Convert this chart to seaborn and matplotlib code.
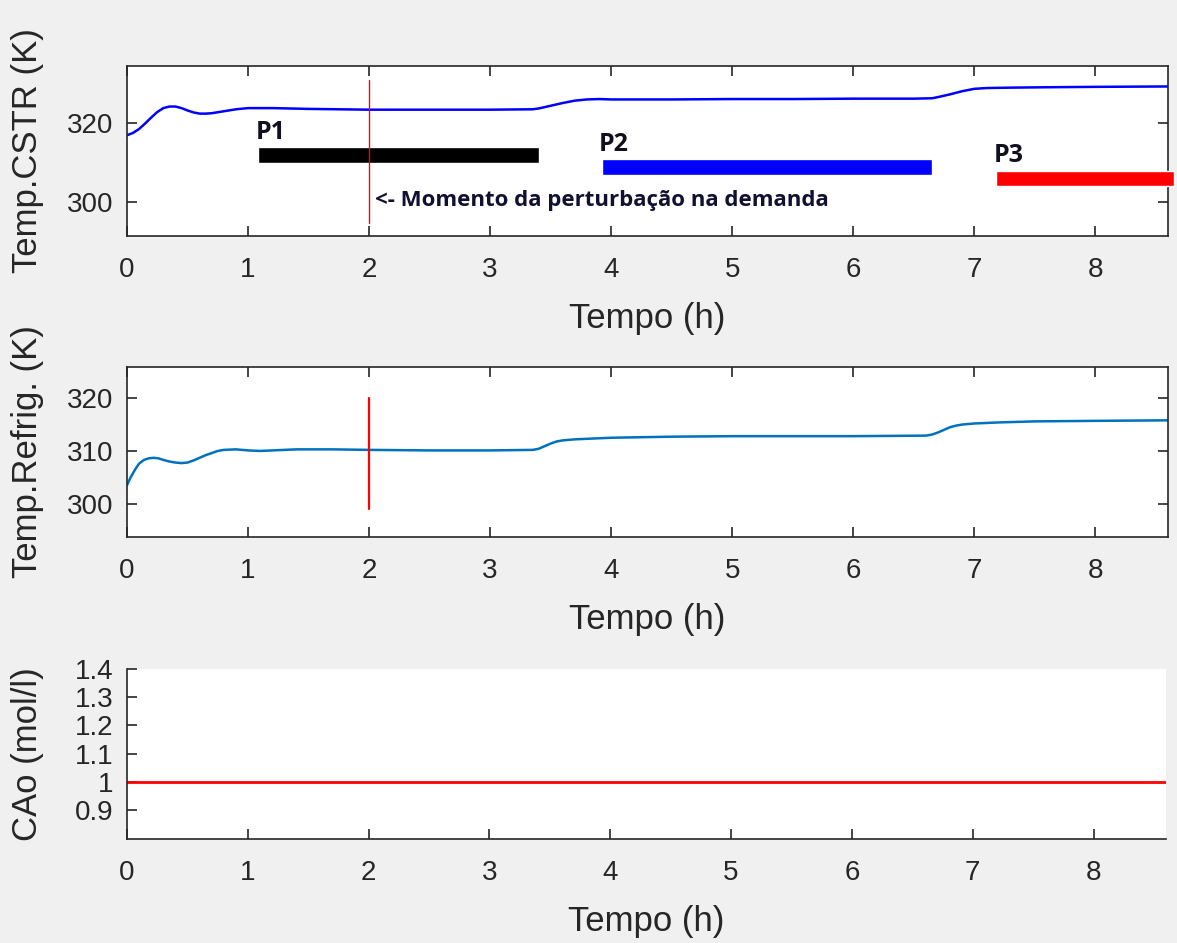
import numpy as np
import pandas as pd
import seaborn as sns
import matplotlib
matplotlib.use("Agg")
import matplotlib.pyplot as plt

# ---------------- data ----------------
t_cstr = [0, 0.05, 0.1, 0.15, 0.2, 0.25, 0.3, 0.35, 0.4, 0.45, 0.5, 0.55, 0.6, 0.65,
          0.7, 0.8, 0.9, 1.0, 1.2, 1.5, 2.0, 2.5, 3.0, 3.35, 3.4, 3.5, 3.6, 3.7, 3.8,
          3.9, 4.0, 4.5, 5.0, 5.5, 6.0, 6.5, 6.65, 6.7, 6.8, 6.9, 7.0, 7.1, 7.3, 7.6,
          8.0, 8.6]
T_cstr = [317.0, 317.6, 318.6, 320.0, 321.5, 322.9, 323.9, 324.3, 324.3, 323.9, 323.3,
          322.8, 322.5, 322.5, 322.6, 323.1, 323.6, 323.9, 323.9, 323.7, 323.5, 323.5,
          323.5, 323.6, 323.8, 324.5, 325.2, 325.8, 326.1, 326.2, 326.1, 326.1, 326.2,
          326.2, 326.3, 326.3, 326.4, 326.7, 327.4, 328.2, 328.8, 329.0, 329.1, 329.2,
          329.3, 329.4]

t_refr = [0, 0.03, 0.07, 0.1, 0.14, 0.18, 0.22, 0.26, 0.3, 0.35, 0.4, 0.45, 0.5, 0.55,
          0.6, 0.65, 0.7, 0.75, 0.8, 0.9, 1.0, 1.1, 1.2, 1.4, 1.7, 2.0, 2.5, 3.0, 3.35,
          3.4, 3.45, 3.5, 3.55, 3.6, 3.7, 3.8, 4.0, 4.5, 5.0, 5.5, 6.0, 6.6, 6.65, 6.7,
          6.75, 6.8, 6.85, 6.9, 7.0, 7.2, 7.5, 8.0, 8.6]
T_refr = [303.5, 305.0, 306.6, 307.6, 308.3, 308.6, 308.7, 308.6, 308.3, 308.0, 307.8,
          307.7, 307.8, 308.2, 308.7, 309.2, 309.6, 310.0, 310.2, 310.3, 310.1, 310.0,
          310.1, 310.3, 310.3, 310.2, 310.1, 310.1, 310.2, 310.4, 310.9, 311.4, 311.8,
          312.0, 312.2, 312.3, 312.5, 312.7, 312.8, 312.8, 312.8, 312.9, 313.1, 313.5,
          314.0, 314.5, 314.8, 315.0, 315.2, 315.4, 315.6, 315.7, 315.8]

t_cao = [0, 8.6]
CAo = [1.0, 1.0]

# periods (start, end, centre value, label)
period_labels = ["P1", "P2", "P3"]
period_start = [1.08, 3.92, 7.18]
period_end = [3.40, 6.65, 8.65]
period_level = [312.0, 309.0, 306.0]
period_colors = ["black", "#0000ff", "#ff0000"]

t_disturb = 2.0
disturb_span_1 = (294.7, 331.0)
disturb_span_2 = (299.0, 320.0)
annotation = "<- Momento da perturbação na demanda"

xticks = [0, 1, 2, 3, 4, 5, 6, 7, 8]
yticks_1 = [300, 320]
yticks_2 = [300, 310, 320]
yticks_3 = [0.9, 1.0, 1.1, 1.2, 1.3, 1.4]
yticklabels_3 = ["0.9", "1", "1.1", "1.2", "1.3", "1.4"]

# ---------------- style ----------------
sns.set_theme(style="white")
plt.rcParams["font.family"] = ["Liberation Sans", "DejaVu Sans"]
plt.rcParams["axes.edgecolor"] = "#262626"
plt.rcParams["xtick.color"] = "#262626"
plt.rcParams["ytick.color"] = "#262626"
plt.rcParams["axes.labelcolor"] = "#262626"

W, H = 1177, 943
fig = plt.figure(figsize=(W / 100, H / 100), dpi=100, facecolor="#f0f0f0")

def frac(l, t, r, b):
    return [l / W, 1 - b / H, (r - l) / W, (b - t) / H]

ax1 = fig.add_axes(frac(127, 66, 1168, 236))
ax2 = fig.add_axes(frac(127, 367, 1168, 537))
ax3 = fig.add_axes(frac(127, 669, 1166, 839))

TICK_FS = 20
LAB_FS = 25

def style(ax, box=True):
    ax.set_facecolor("white")
    ax.set_xlim(0, 8.6)
    ax.set_xticks(xticks)
    ax.tick_params(direction="in", length=7, width=1.2, labelsize=TICK_FS,
                   top=box, right=box, bottom=True, left=True)
    ax.tick_params(axis="x", pad=15)
    ax.tick_params(axis="y", pad=10)
    for s in ["top", "right"]:
        ax.spines[s].set_visible(box)
    for s in ax.spines.values():
        s.set_linewidth(1.2)
    ax.set_xlabel("Tempo (h)", fontsize=LAB_FS, labelpad=14)

# ---- subplot 1 ----
df1 = pd.DataFrame({"t": t_cstr, "T": T_cstr})
sns.lineplot(data=df1, x="t", y="T", ax=ax1, color="#0000ff", linewidth=1.8)
for lab, s0, s1, lv, c in zip(period_labels, period_start, period_end, period_level, period_colors):
    ax1.barh(lv, s1 - s0, left=s0, height=4.0, color=c, clip_on=False, zorder=3)
    ax1.text(s0 - 0.02, lv + 2.6, lab, fontsize=18, fontweight="bold",
             family=["Open Sans", "DejaVu Sans"], color="#101020", va="bottom", ha="left")
ax1.plot([t_disturb, t_disturb], disturb_span_1, color="#ff0000", linewidth=1.0, zorder=4)
ax1.text(t_disturb + 0.05, 300.5, annotation, fontsize=16,
         fontweight="bold", family=["Open Sans", "DejaVu Sans"], color="#101030",
         va="center", ha="left")
ax1.set_ylim(291.4, 334.6)
ax1.set_yticks(yticks_1)
ax1.set_ylabel("Temp.CSTR (K)", fontsize=LAB_FS)
style(ax1)

# ---- subplot 2 ----
df2 = pd.DataFrame({"t": t_refr, "T": T_refr})
sns.lineplot(data=df2, x="t", y="T", ax=ax2, color="#0072bd", linewidth=1.8)
ax2.plot([t_disturb, t_disturb], disturb_span_2, color="#ff0000", linewidth=1.6, zorder=4)
ax2.set_ylim(293.7, 325.9)
ax2.set_yticks(yticks_2)
ax2.set_ylabel("Temp.Refrig. (K)", fontsize=LAB_FS)
style(ax2)

# ---- subplot 3 ----
df3 = pd.DataFrame({"t": t_cao, "CAo": CAo})
sns.lineplot(data=df3, x="t", y="CAo", ax=ax3, color="#ff0000", linewidth=2.0)
ax3.set_ylim(0.797, 1.4)
ax3.set_yticks(yticks_3)
ax3.set_yticklabels(yticklabels_3)
ax3.set_ylabel("CAo (mol/l)", fontsize=LAB_FS)
style(ax3, box=False)

for ax in (ax1, ax2, ax3):
    ax.yaxis.set_label_coords(-0.08, 0.5)

fig.savefig("out.png", dpi=100, facecolor=fig.get_facecolor())
